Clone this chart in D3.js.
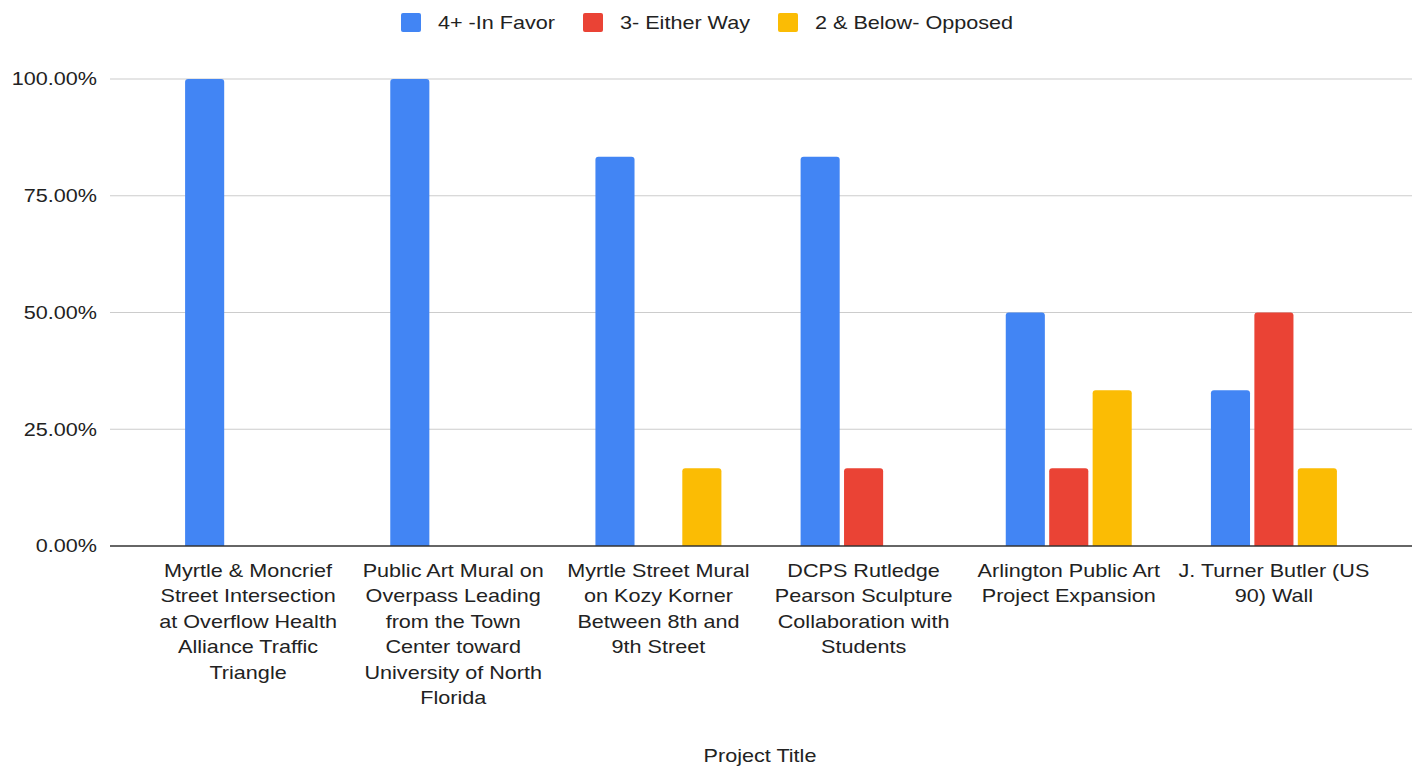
<!DOCTYPE html>
<html>
<head>
<meta charset="utf-8">
<script src="https://cdn.jsdelivr.net/npm/d3@7"></script>
<style>
  html, body { margin: 0; padding: 0; background: #fff; }
  svg { display: block; font-family: "Liberation Sans", Arial, sans-serif; }
</style>
</head>
<body>
<div id="chart"></div>
<script>
const categories = [
  "Myrtle & Moncrief\nStreet Intersection\nat Overflow Health\nAlliance Traffic\nTriangle",
  "Public Art Mural on\nOverpass Leading\nfrom the Town\nCenter toward\nUniversity of North\nFlorida",
  "Myrtle Street Mural\non Kozy Korner\nBetween 8th and\n9th Street",
  "DCPS Rutledge\nPearson Sculpture\nCollaboration with\nStudents",
  "Arlington Public Art\nProject Expansion",
  "J. Turner Butler (US\n90) Wall"
];
const seriesNames = ["4+ -In Favor", "3- Either Way", "2 & Below- Opposed"];
const seriesColors = ["#4285f4", "#ea4335", "#fbbc04"];
const inFavor   = [1.0, 1.0, 0.8333, 0.8333, 0.5, 0.3333];
const eitherWay = [0, 0, 0, 0.1667, 0.1667, 0.5];
const opposed   = [0, 0, 0.1667, 0, 0.3333, 0.1667];
const yTicks = [0, 0.25, 0.5, 0.75, 1];
const xTitle = "Project Title";

const W = 1416, H = 768;
const S = 1.2; // the reference is stretched horizontally
const sx = v => v / S;

const svg = d3.select("#chart").append("svg")
  .attr("width", W).attr("height", H);
const g = svg.append("g").attr("transform", `scale(${S},1)`);

const y = d3.scaleLinear().domain([0, 1]).range([546, 79]);

const x0 = d3.scaleBand()
  .domain(d3.range(categories.length))
  .range([sx(145.5), sx(1376.5)])
  .paddingInner(0.386)
  .paddingOuter(0.193);

const x1 = d3.scaleBand()
  .domain(d3.range(seriesNames.length))
  .range([0, x0.bandwidth()])
  .paddingInner(0.1);

// gridlines
g.append("g").selectAll("line")
  .data(yTicks.filter(d => d > 0))
  .enter().append("line")
  .attr("x1", sx(110)).attr("x2", sx(1412))
  .attr("y1", d => y(d)).attr("y2", d => y(d))
  .attr("stroke", "#cccccc").attr("stroke-width", 1);

// y labels
g.append("g").selectAll("text")
  .data(yTicks)
  .enter().append("text")
  .attr("x", sx(97))
  .attr("y", d => y(d))
  .attr("dy", "0.35em")
  .attr("text-anchor", "end")
  .attr("fill", "#222")
  .style("font-size", "18px")
  .text(d => d3.format(".2%")(d));

// bars
const values = [inFavor, eitherWay, opposed];
const r = 3;
function barPath(x, yTop, w, h) {
  if (h <= 0) return "";
  const rx = r / S, ry = Math.min(r, h);
  return `M${x},${yTop + h}V${yTop + ry}Q${x},${yTop} ${x + rx},${yTop}` +
    `H${x + w - rx}Q${x + w},${yTop} ${x + w},${yTop + ry}V${yTop + h}Z`;
}

const groups = g.append("g").selectAll("g")
  .data(categories.map((c, i) => i))
  .enter().append("g")
  .attr("transform", i => `translate(${x0(i)},0)`);

groups.selectAll("path")
  .data(i => values.map((arr, s) => ({ s, v: arr[i] })))
  .enter().append("path")
  .attr("fill", d => seriesColors[d.s])
  .attr("d", d => barPath(x1(d.s), y(d.v), x1.bandwidth(), y(0) - y(d.v)));

// baseline
g.append("line")
  .attr("x1", sx(110)).attr("x2", sx(1412))
  .attr("y1", y(0)).attr("y2", y(0))
  .attr("stroke", "#333").attr("stroke-width", 1.5);

// category labels
const lab = g.append("g").selectAll("text")
  .data(categories)
  .enter().append("text")
  .attr("text-anchor", "middle")
  .attr("fill", "#222")
  .style("font-size", "18px")
  .attr("transform", (d, i) => `translate(${x0(i) + x0.bandwidth() / 2},577)`);
lab.selectAll("tspan")
  .data(d => d.split("\n"))
  .enter().append("tspan")
  .attr("x", 0)
  .attr("y", (d, k) => k * 25.5)
  .text(d => d);

// axis title
g.append("text")
  .attr("x", sx(760))
  .attr("y", 762)
  .attr("text-anchor", "middle")
  .attr("fill", "#222")
  .style("font-size", "18px")
  .text(xTitle);

// legend
const legendX = [401, 583, 778];
const leg = g.append("g").selectAll("g")
  .data(seriesNames)
  .enter().append("g")
  .attr("transform", (d, i) => `translate(${sx(legendX[i])},0)`);
leg.append("rect")
  .attr("x", 0).attr("y", 13)
  .attr("width", sx(20)).attr("height", 19)
  .attr("rx", 2 / S).attr("ry", 2)
  .attr("fill", (d, i) => seriesColors[i]);
leg.append("text")
  .attr("x", sx(37))
  .attr("y", 22.5)
  .attr("dy", "0.35em")
  .attr("fill", "#222")
  .style("font-size", "18px")
  .text(d => d);
</script>
</body>
</html>
